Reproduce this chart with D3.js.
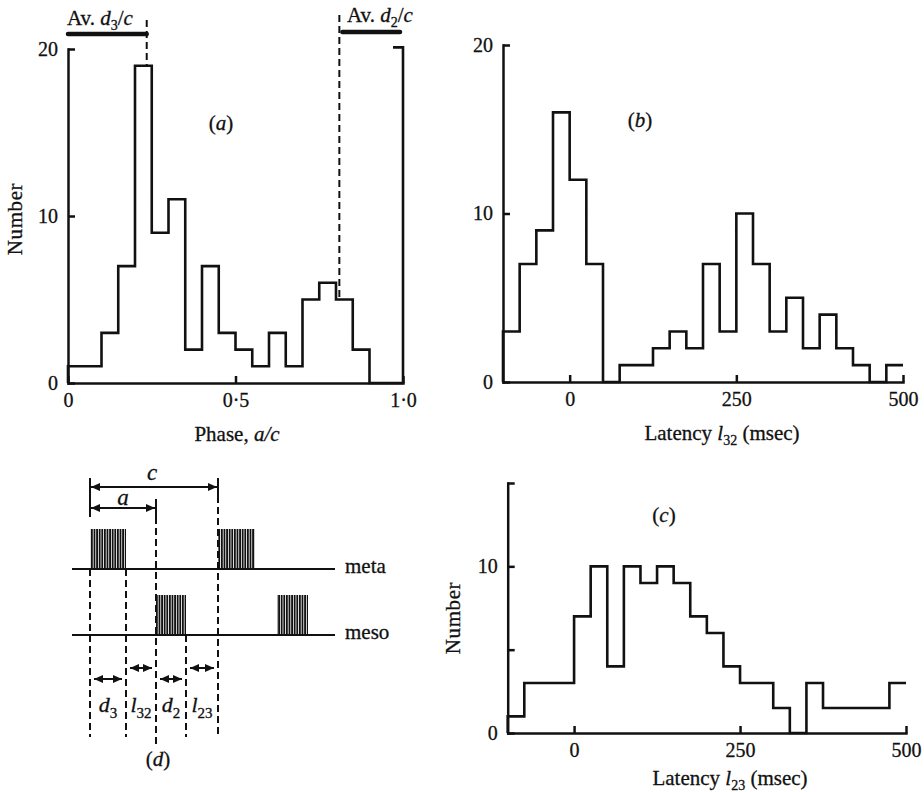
<!DOCTYPE html>
<html>
<head>
<meta charset="utf-8">
<script src="https://cdn.jsdelivr.net/npm/d3@7"></script>
<style>
  body { margin: 0; background: #fff; }
  svg { display: block; }
  text { font-family: "Liberation Serif", "Times New Roman", serif; fill: #111; stroke: #111; stroke-width: 0.3px; }
  .axis path, .axis line { stroke: #111; stroke-width: 2.5; }
  .axis text { font-size: 20px; font-family: "Liberation Serif", serif; fill: #111; stroke: #111; stroke-width: 0.3px; }
  .hist { fill: none; stroke: #111; stroke-width: 2.6; stroke-linejoin: miter; }
  .dash { stroke: #111; stroke-width: 2; stroke-dasharray: 7,4; fill: none; }
  .solid { stroke: #111; stroke-width: 2; fill: none; }
</style>
</head>
<body>
<svg id="fig" width="924" height="792"></svg>
<script>
// (a) phase a/c, bins of 0.05 starting at 0
var phaseStart = 0, phaseStep = 0.05;
var phaseCounts = [1,1,3,7,19,9,11,2,7,3,2,1,3,1,5,6,5,2,0,0];
var avD3 = 0.235;   // Av. d3/c
var avD2 = 0.19;    // Av. d2/c, measured back from 1.0

// (b) latency l32 (msec), 25 msec bins from -100
var l32Start = -100, l32Step = 25;
var l32Counts = [3,7,9,16,12,7,0,1,1,2,3,2,7,3,10,7,3,5,2,4,2,1,0,1];

// (c) latency l23 (msec), 25 msec bins from -100
var l23Start = -100, l23Step = 25;
var l23Counts = [1,3,3,3,7,10,4,10,9,10,9,7,6,4,3,3,1.5,0,3,1.5,1.5,1.5,1.5,3];

var phaseTicks = [0, 0.5, 1];
var latencyTicks = [0, 250, 500];
var countTicks = [0, 10, 20];
var countTicksC = [0, 5, 10, 15];
var labelledC = [0, 10];

// (d) burst diagram, arbitrary time units, one cycle c = 128
var cycle = 128, phaseA = 66;
var bursts = [
  {train: "meta", t0: 0, t1: 36},
  {train: "meta", t0: 128, t1: 165},
  {train: "meso", t0: 66, t1: 96},
  {train: "meso", t0: 187, t1: 218}
];
var intervals = [
  {name: "d", sub: "3", t0: 0, t1: 36, row: 0},
  {name: "l", sub: "32", t0: 36, t1: 66, row: 1},
  {name: "d", sub: "2", t0: 66, t1: 96, row: 0},
  {name: "l", sub: "23", t0: 96, t1: 128, row: 1}
];
var trains = ["meta", "meso"];
var trainExtent = [-18, 245];

var svg = d3.select("#fig");

// text with italic parts and subscripts
function richText(g, x, y, parts, anchor, size) {
  var t = g.append("text").attr("x", x).attr("y", y)
    .attr("text-anchor", anchor || "start")
    .style("font-size", size + "px");
  var down = false;
  parts.forEach(function(p) {
    var s = t.append("tspan").text(p.t);
    if (p.i) s.style("font-style", "italic");
    if (p.sub) {
      s.style("font-size", Math.round(size * 0.68) + "px").attr("dy", size * 0.25);
      down = true;
    } else if (down) {
      s.attr("dy", -size * 0.25);
      down = false;
    }
  });
  return t;
}

function stepPath(x, y, start, step, counts, closeEnd) {
  var pts = [[x(start), y(0)]];
  counts.forEach(function(c, i) {
    pts.push([x(start + i * step), y(c)]);
    pts.push([x(start + (i + 1) * step), y(c)]);
  });
  if (closeEnd) pts.push([x(start + counts.length * step), y(0)]);
  return d3.line()(pts);
}

function drawAxes(x, y, xTicks, xFmt, yTicks, yFmt) {
  svg.append("g").attr("class", "axis")
    .attr("transform", "translate(0," + y(0) + ")")
    .call(d3.axisBottom(x).tickValues(xTicks).tickSize(-7).tickSizeOuter(0)
      .tickPadding(10).tickFormat(xFmt));
  svg.append("g").attr("class", "axis")
    .attr("transform", "translate(" + x.range()[0] + ",0)")
    .call(d3.axisLeft(y).tickValues(yTicks).tickSize(-7).tickSizeOuter(0)
      .tickPadding(10).tickFormat(yFmt));
  svg.selectAll(".axis .domain").attr("stroke-linecap", "square");
}

function panelTitle(x, y, letter) {
  richText(svg, x, y, [{t: "("}, {t: letter, i: true}, {t: ")"}], "middle", 21)
    .attr("dominant-baseline", "central");
}

function yTitle(x, y) {
  svg.append("text").attr("transform", "translate(" + x + "," + y + ") rotate(-90)")
    .attr("text-anchor", "middle").attr("dominant-baseline", "central")
    .style("font-size", "21px").style("letter-spacing", "0.6px").text("Number");
}

// ---- (a) ----
var xA = d3.scaleLinear().domain([0, 1]).range([68, 403]);
var yA = d3.scaleLinear().domain([0, 20]).range([383, 49]);
var dot = function(d) { return d === 0 ? "0" : d3.format(".1f")(d).replace(".", "\u00b7"); };
drawAxes(xA, yA, phaseTicks, dot, countTicks, d3.format("d"));
svg.append("path").attr("class", "hist")
  .attr("d", stepPath(xA, yA, phaseStart, phaseStep, phaseCounts, true));
// right frame with its top tick
svg.append("path").attr("class", "hist")
  .attr("d", "M" + (xA(1) - 10) + "," + yA(20.1) + "H" + xA(1) + "V" + yA(0));

// averages of d3/c and d2/c
var binAt = function(p) { return phaseCounts[Math.floor((p - phaseStart) / phaseStep)]; };
svg.append("line").attr("class", "dash")
  .attr("x1", xA(avD3)).attr("x2", xA(avD3)).attr("y1", 20).attr("y2", yA(binAt(avD3)));
svg.append("line").attr("class", "dash")
  .attr("x1", xA(1 - avD2)).attr("x2", xA(1 - avD2)).attr("y1", 15).attr("y2", yA(binAt(1 - avD2)));
svg.append("line").attr("x1", xA(0)).attr("x2", xA(avD3)).attr("y1", 34).attr("y2", 34)
  .attr("stroke", "#111").attr("stroke-width", 4.5).attr("stroke-linecap", "round");
svg.append("line").attr("x1", xA(1 - avD2) + 3).attr("x2", xA(1) - 3).attr("y1", 32).attr("y2", 32)
  .attr("stroke", "#111").attr("stroke-width", 4.5).attr("stroke-linecap", "round");
richText(svg, 67, 25, [{t: "Av. "}, {t: "d", i: true}, {t: "3", sub: true}, {t: "/"}, {t: "c", i: true}], "start", 21);
richText(svg, 347, 22, [{t: "Av. "}, {t: "d", i: true}, {t: "2", sub: true}, {t: "/"}, {t: "c", i: true}], "start", 21);

panelTitle(221, 123, "a");
yTitle(15, 219);
richText(svg, 237, 441, [{t: "Phase, "}, {t: "a/c", i: true}], "middle", 21);

// ---- (b) ----
var xB = d3.scaleLinear().domain([-100, 500]).range([503, 903]);
var yB = d3.scaleLinear().domain([0, 20]).range([382, 45]);
drawAxes(xB, yB, latencyTicks, d3.format("d"), countTicks, d3.format("d"));
svg.append("path").attr("class", "hist")
  .attr("d", stepPath(xB, yB, l32Start, l32Step, l32Counts, false));
panelTitle(640, 120, "b");
richText(svg, 722, 440, [{t: "Latency "}, {t: "l", i: true}, {t: "32", sub: true}, {t: " (msec)"}], "middle", 21);

// ---- (c) ----
var xC = d3.scaleLinear().domain([-100, 500]).range([507.7, 906]);
var yC = d3.scaleLinear().domain([0, 15]).range([733, 483]);
drawAxes(xC, yC, latencyTicks, d3.format("d"), countTicksC,
  function(d) { return labelledC.indexOf(d) >= 0 ? d : ""; });
svg.append("path").attr("class", "hist")
  .attr("d", stepPath(xC, yC, l23Start, l23Step, l23Counts, false));
panelTitle(664, 515, "c");
yTitle(453, 618);
richText(svg, 730, 785, [{t: "Latency "}, {t: "l", i: true}, {t: "23", sub: true}, {t: " (msec)"}], "middle", 21);

// ---- (d) ----
var xd = d3.scaleLinear().domain([0, cycle]).range([90, 218]);
var rowY = {meta: 569, meso: 635};
var burstH = 40;
var cY = 487, aY = 508, arrowY = [679, 668], bottomY = 737;

var defs = svg.append("defs");
defs.append("marker").attr("id", "arr").attr("viewBox", "0 0 9 8")
  .attr("refX", 9).attr("refY", 4).attr("markerWidth", 9).attr("markerHeight", 8)
  .attr("markerUnits", "userSpaceOnUse").attr("orient", "auto-start-reverse")
  .append("path").attr("d", "M0,0L9,4L0,8z").attr("fill", "#111");
var pat = defs.append("pattern").attr("id", "spikes").attr("patternUnits", "userSpaceOnUse")
  .attr("width", 2.6).attr("height", 10);
pat.append("rect").attr("width", 1.8).attr("height", 10).attr("fill", "#111");

var dg = svg.append("g");
dg.selectAll(".train").data(trains).enter().append("line").attr("class", "solid")
  .attr("x1", xd(trainExtent[0])).attr("x2", xd(trainExtent[1]))
  .attr("y1", function(d) { return rowY[d]; }).attr("y2", function(d) { return rowY[d]; });
dg.selectAll(".burst").data(bursts).enter().append("rect")
  .attr("x", function(d) { return xd(d.t0); })
  .attr("width", function(d) { return xd(d.t1) - xd(d.t0); })
  .attr("y", function(d) { return rowY[d.train] - burstH; })
  .attr("height", burstH).attr("fill", "url(#spikes)");
dg.selectAll(".trainlabel").data(trains).enter().append("text")
  .attr("x", xd(trainExtent[1]) + 10).attr("y", function(d) { return rowY[d] + 4; })
  .style("font-size", "21px").text(function(d) { return d; });

// c and a spans
dg.append("line").attr("class", "solid").attr("marker-start", "url(#arr)").attr("marker-end", "url(#arr)")
  .attr("x1", xd(0) + 1).attr("x2", xd(cycle) - 1).attr("y1", cY).attr("y2", cY);
dg.append("line").attr("class", "solid").attr("marker-start", "url(#arr)").attr("marker-end", "url(#arr)")
  .attr("x1", xd(0) + 1).attr("x2", xd(phaseA) - 1).attr("y1", aY).attr("y2", aY);
dg.append("line").attr("class", "solid").attr("stroke-width", 2.5)
  .attr("x1", xd(0)).attr("x2", xd(0)).attr("y1", cY - 9).attr("y2", aY + 9);
dg.append("line").attr("class", "solid").attr("stroke-width", 2.5)
  .attr("x1", xd(cycle)).attr("x2", xd(cycle)).attr("y1", cY - 9).attr("y2", cY + 9);
dg.append("line").attr("class", "solid").attr("stroke-width", 2.5)
  .attr("x1", xd(phaseA)).attr("x2", xd(phaseA)).attr("y1", aY - 9).attr("y2", aY + 9);
richText(dg, xd(cycle / 2) - 2, cY - 7, [{t: "c", i: true}], "middle", 23);
richText(dg, xd(phaseA / 2), aY - 3, [{t: "a", i: true}], "middle", 23);

// dashed boundaries of the bursts
var edges = [];
intervals.forEach(function(d) { edges.push(d.t0); });
edges.push(intervals[intervals.length - 1].t1);
var edgeTop = function(t) {
  if (t === phaseA) return aY + 9;
  if (t === cycle) return cY + 9;
  var b = bursts.filter(function(d) { return d.t0 === t || d.t1 === t; })[0];
  return rowY[b.train];
};
dg.selectAll(".edge").data(edges).enter().append("line").attr("class", "dash")
  .attr("x1", xd).attr("x2", xd)
  .attr("y1", edgeTop)
  .attr("y2", function(t) { return t === phaseA ? bottomY + 7 : bottomY; });

// interval arrows and names
dg.selectAll(".iv").data(intervals).enter().append("line").attr("class", "solid")
  .attr("marker-start", "url(#arr)").attr("marker-end", "url(#arr)")
  .attr("x1", function(d) { return xd(d.t0) + 4; })
  .attr("x2", function(d) { return xd(d.t1) - 4; })
  .attr("y1", function(d) { return arrowY[d.row]; })
  .attr("y2", function(d) { return arrowY[d.row]; });
intervals.forEach(function(d) {
  richText(dg, (xd(d.t0) + xd(d.t1)) / 2, 712, [{t: d.name, i: true}, {t: d.sub, sub: true}], "middle", 22);
});
richText(dg, xd(phaseA) + 2, 766, [{t: "("}, {t: "d", i: true}, {t: ")"}], "middle", 21);
</script>
</body>
</html>
